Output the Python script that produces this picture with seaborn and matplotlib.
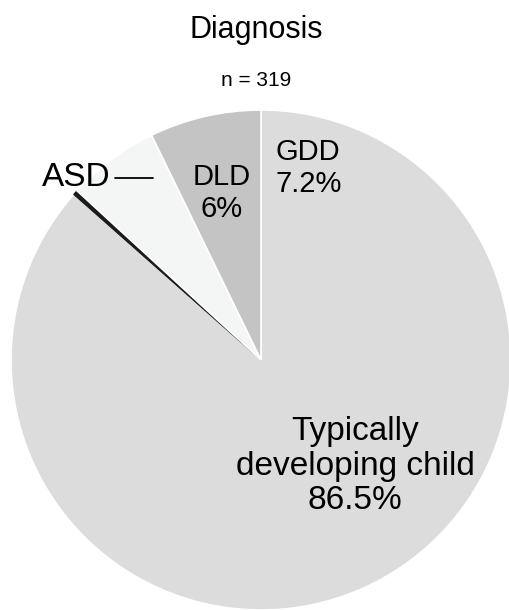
import matplotlib
matplotlib.use("Agg")
import matplotlib.pyplot as plt
import seaborn as sns

sns.set_theme(style="white")
plt.rcParams['font.family'] = ['Liberation Sans', 'DejaVu Sans']
plt.rcParams['text.color'] = 'black'

# Datos (conteos, n = 319), en orden horario desde arriba
categorias = ["Typically developing child", "ASD", "DLD", "GDD"]
conteos = [276, 1, 19, 23]
colores = ["#dcdcdc", "#1a1a1a", "#f4f6f6", "#c4c4c4"]

W, H = 509, 610
fig = plt.figure(figsize=(W / 100, H / 100), dpi=100)
ax = fig.add_axes([0, 0, 1, 1])

def py(y):
    # coordenada y en pixeles (desde arriba) -> datos
    return H - y

wedges, _ = ax.pie(conteos, colors=colores, startangle=90, counterclock=False,
                   center=(261, py(360)), radius=250, frame=True,
                   wedgeprops=dict(edgecolor="white", linewidth=1.2))
# la cuña ASD sin borde blanco para que se vea
wedges[1].set_edgecolor(colores[1])
wedges[1].set_linewidth(0.8)
ax.set_xlim(0, W)
ax.set_ylim(0, H)
ax.set_aspect("equal")
ax.axis("off")

ax.text(W / 2 + 2, py(30), "Diagnosis", ha="center", va="center", fontsize=22)
ax.text(W / 2 + 2, py(80), "n = 319", ha="center", va="center", fontsize=15)

ax.text(76, py(178), "ASD", ha="center", va="center", fontsize=24)
ax.plot([115, 153], [py(178), py(178)], color="black", lw=1.3)
ax.text(222, py(193), "DLD\n6%", ha="center", va="center", fontsize=21, linespacing=1.2)
ax.text(276, py(168), "GDD\n7.2%", ha="left", va="center", fontsize=21, linespacing=1.2)
ax.text(355, py(466), "Typically\ndeveloping child\n86.5%", ha="center", va="center",
        fontsize=24, linespacing=1.15)

plt.savefig("out.png", dpi=100)
plt.close()
